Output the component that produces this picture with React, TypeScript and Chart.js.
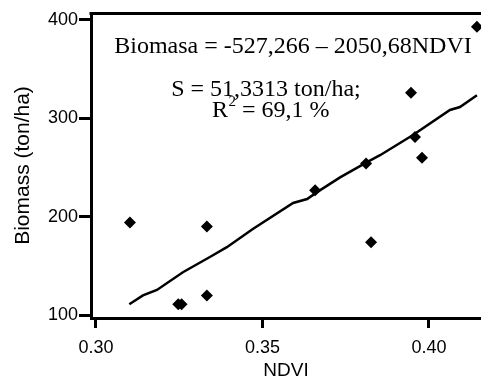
import { useEffect, useRef } from 'react';
import { Chart, registerables } from 'chart.js';

Chart.register(...registerables);

// Observed points (NDVI, biomass)
const ndvi = [0.4144, 0.3946, 0.3958, 0.3979, 0.3811, 0.3658, 0.3102, 0.3333, 0.3826, 0.3333, 0.3247, 0.3257];
const biomass = [393, 326, 281, 260, 254, 227, 194, 190, 174, 120, 111, 111];

// Fitted line as drawn in the figure
const fitNdvi = [0.31, 0.3141, 0.3183, 0.3261, 0.3342, 0.3393, 0.3471, 0.3592, 0.3634, 0.3664, 0.3733, 0.3814, 0.3853, 0.3952, 0.4063, 0.4093, 0.4144];
const fitBiomass = [111, 120, 125.5, 143.5, 159, 169, 187.5, 214, 218, 225, 240, 255.5, 262.5, 283, 308.5, 311.5, 323.5];

const xTicks = [0.3, 0.35, 0.4];
const yTicks = [100, 200, 300, 400];

const xTitle = 'NDVI';
const yTitle = 'Biomass (ton/ha)';
const equationText = 'Biomasa = -527,266 – 2050,68NDVI';
const sText = 'S = 51,3313 ton/ha;';
const rText = ['R', '2', ' = 69,1 %'];

const annotationPlugin = {
  id: 'annotations',
  afterDraw(chart: any) {
    const { ctx, chartArea } = chart;
    ctx.save();
    // top frame line
    ctx.strokeStyle = '#000';
    ctx.lineWidth = 3;
    ctx.beginPath();
    ctx.moveTo(chartArea.left - 1.5, chartArea.top + 0.5);
    ctx.lineTo(chartArea.right, chartArea.top + 0.5);
    ctx.stroke();

    ctx.fillStyle = '#000';
    ctx.textBaseline = 'alphabetic';
    ctx.font = '24px "Liberation Serif", "Times New Roman", serif';
    ctx.textAlign = 'center';
    ctx.fillText(equationText, 293, 53);
    ctx.fillText(sText, 266, 96);

    ctx.textAlign = 'left';
    let x = 212;
    ctx.fillText(rText[0], x, 117);
    x += ctx.measureText(rText[0]).width;
    ctx.font = '15px "Liberation Serif", "Times New Roman", serif';
    ctx.fillText(rText[1], x + 0.5, 106);
    x += ctx.measureText(rText[1]).width + 0.5;
    ctx.font = '24px "Liberation Serif", "Times New Roman", serif';
    ctx.fillText(rText[2], x, 117);
    ctx.restore();
  },
};

export default function App() {
  const ref = useRef<HTMLCanvasElement | null>(null);

  useEffect(() => {
    if (!ref.current) return;
    const tickFont = { family: '"Liberation Sans", Arial, sans-serif', size: 18 };
    const chart = new Chart(ref.current, {
      type: 'scatter',
      data: {
        datasets: [
          {
            label: 'fit',
            data: fitNdvi.map((x, i) => ({ x, y: fitBiomass[i] })),
            showLine: true,
            borderColor: '#000',
            borderWidth: 2.5,
            pointRadius: 0,
            fill: false,
            tension: 0,
          },
          {
            label: 'obs',
            data: ndvi.map((x, i) => ({ x, y: biomass[i] })),
            pointStyle: 'rectRot',
            pointRadius: 6,
            pointBackgroundColor: '#000',
            pointBorderColor: '#000',
            pointBorderWidth: 0,
            clip: false,
          },
        ],
      },
      options: {
        animation: false,
        responsive: false,
        devicePixelRatio: 1,
        layout: { autoPadding: false, padding: { top: 13, right: 0, left: 0, bottom: 0 } },
        plugins: { legend: { display: false }, tooltip: { enabled: false } },
        scales: {
          x: {
            type: 'linear',
            min: 0.2985,
            max: 0.41562,
            afterBuildTicks: (s: any) => {
              s.ticks = xTicks.map((v) => ({ value: v }));
            },
            afterFit: (s: any) => {
              s.height = 66;
              s.paddingLeft = 0;
              s.paddingRight = 0;
            },
            ticks: {
              color: '#000',
              font: tickFont,
              padding: 9,
              callback: (v: any) => Number(v).toFixed(2),
            },
            grid: {
              display: true,
              drawOnChartArea: false,
              drawTicks: true,
              tickLength: 10,
              color: '#000',
              lineWidth: 3,
            },
            border: { display: true, color: '#000', width: 3 },
            title: {
              display: true,
              text: xTitle,
              color: '#000',
              font: { family: '"Liberation Sans", Arial, sans-serif', size: 19 },
              padding: { top: 0, bottom: 2 },
            },
          },
          y: {
            type: 'linear',
            min: 97,
            max: 407.1,
            afterBuildTicks: (s: any) => {
              s.ticks = yTicks.map((v) => ({ value: v }));
            },
            afterFit: (s: any) => {
              s.width = 91;
              s.paddingTop = 0;
              s.paddingBottom = 0;
            },
            ticks: {
              color: '#000',
              font: tickFont,
              padding: 1,
            },
            grid: {
              display: true,
              drawOnChartArea: false,
              drawTicks: true,
              tickLength: 12,
              color: '#000',
              lineWidth: 3,
            },
            border: { display: true, color: '#000', width: 3 },
            title: {
              display: true,
              text: yTitle,
              color: '#000',
              font: { family: '"Liberation Sans", Arial, sans-serif', size: 21 },
              padding: { top: 11, bottom: 0 },
            },
          },
        },
      },
      plugins: [annotationPlugin],
    });
    return () => chart.destroy();
  }, []);

  return (
    <div style={{ position: 'absolute', left: 0, top: 0, width: 481, height: 384, background: '#fff' }}>
      <canvas ref={ref} width={481} height={384} style={{ width: 481, height: 384, display: 'block' }} />
    </div>
  );
}
